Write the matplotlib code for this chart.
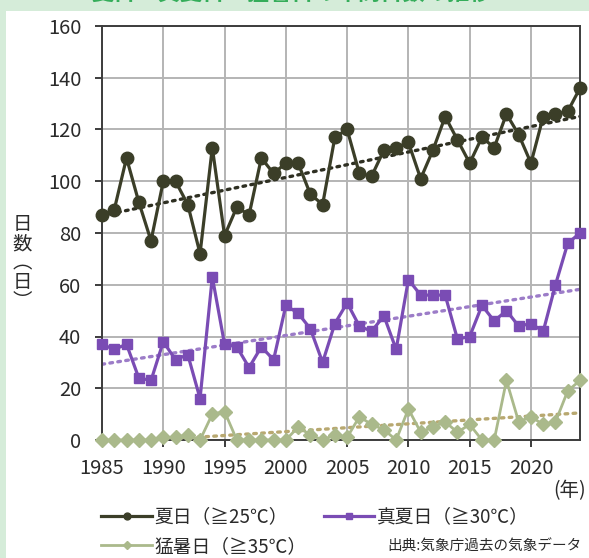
import numpy as np
import matplotlib
matplotlib.use("Agg")
from matplotlib import pyplot as plt
from matplotlib.patches import Rectangle

plt.rcParams['font.family'] = ['Noto Sans CJK JP', 'DejaVu Sans']

years = np.arange(1985, 2025)

# 夏日 (>=25C)
natsubi = [87, 89, 109, 92, 77, 100, 100, 91, 72, 113,
           79, 90, 87, 109, 103, 107, 107, 95, 91, 117,
           120, 103, 102, 112, 113, 115, 101, 112, 125, 116,
           107, 117, 113, 126, 118, 107, 125, 126, 127, 136]
# 真夏日 (>=30C)
manatsubi = [37, 35, 37, 24, 23, 38, 31, 33, 16, 63,
             37, 36, 28, 36, 31, 52, 49, 43, 30, 45,
             53, 44, 42, 48, 35, 62, 56, 56, 56, 39,
             40, 52, 46, 50, 44, 45, 42, 60, 76, 80]
# 猛暑日 (>=35C)
moshobi = [0, 0, 0, 0, 0, 1, 1, 2, 0, 10,
           11, 0, 0, 0, 0, 0, 5, 2, 0, 2,
           1, 9, 6, 4, 0, 12, 3, 5, 7, 3,
           6, 0, 0, 23, 7, 9, 6, 7, 19, 23]

labels = ['夏日（≧25℃）', '真夏日（≧30℃）', '猛暑日（≧35℃）']
xticks = np.arange(1985, 2021, 5)
yticks = np.arange(0, 161, 20)

c_dark = '#3b3e28'
c_purple = '#7a4cb4'
c_green = '#aab98b'

fig = plt.figure(figsize=(5.89, 5.58), dpi=100)
fig.patch.set_facecolor('#d5ecd9')
fig.patches.append(Rectangle((6 / 589, 0), 1, 1 - 11 / 558, transform=fig.transFigure,
                             facecolor='white', edgecolor='none', zorder=-5))

# title is cut at the top edge, as in the source picture
fig.text(0.496, 1 + 7 / 558, '夏日・真夏日・猛暑日の年間日数の推移', color='#35ad5a',
         fontsize=16, fontweight='bold', ha='center', va='center')

ax = fig.add_axes([102 / 589, 1 - 440 / 558, 478 / 589, 414 / 558])
ax.set_facecolor('white')

# trend lines (linear fit)
for vals, col in [(natsubi, '#2e2f22'), (manatsubi, '#9c7cc8'), (moshobi, '#b8a870')]:
    k, b = np.polyfit(years, vals, 1)
    ax.plot(years, k * years + b, linestyle=(0, (0.8, 1.6)), color=col,
            linewidth=2.4, dash_capstyle='round', zorder=2)

l1, = ax.plot(years, natsubi, color=c_dark, marker='o', markersize=9, linewidth=2.3,
              clip_on=False, zorder=4)
l2, = ax.plot(years, manatsubi, color=c_purple, marker='s', markersize=7.5, linewidth=2.3,
              clip_on=False, zorder=4)
l3, = ax.plot(years, moshobi, color=c_green, marker='D', markersize=7.5, linewidth=2.0,
              clip_on=False, zorder=4)

ax.set_xlim(1985, 2024)
ax.set_ylim(0, 160)
ax.set_xticks(xticks)
ax.set_yticks(yticks)
ax.grid(True, color='#b4b4b4', linewidth=1.4)
ax.set_axisbelow(True)
for s in ax.spines.values():
    s.set_color('#3c3c3c')
    s.set_linewidth(1.4)
ax.tick_params(axis='both', labelsize=14.5, colors='#3c3c3c', labelcolor='#2a2a2a',
               length=5, width=1.4, direction='out')
ax.tick_params(axis='y', pad=10)
ax.tick_params(axis='x', pad=8)

fig.text(22 / 589, 1 - 263 / 558, '日\n数\n︵\n日\n︶', fontsize=14, color='#2a2a2a',
         ha='center', va='center', linespacing=0.9)
fig.text(570 / 589, 1 - 491 / 558, '(年)', fontsize=14, color='#2a2a2a',
         ha='center', va='center')

fig.legend([l1, l3, l2], [labels[0], labels[2], labels[1]], ncol=2,
           loc='upper left', bbox_to_anchor=(92 / 589, 1 - 497 / 558),
           frameon=False, fontsize=13.5, markerscale=0.55, handlelength=2.7,
           handletextpad=0.15, columnspacing=0.9, labelspacing=0.45,
           borderpad=0, labelcolor='#2a2a2a')

fig.text(582 / 589, 1 - 546 / 558, '出典:気象庁過去の気象データ', fontsize=10.5,
         color='#2a2a2a', ha='right', va='center')

fig.savefig('out.png', dpi=100, facecolor=fig.get_facecolor())
